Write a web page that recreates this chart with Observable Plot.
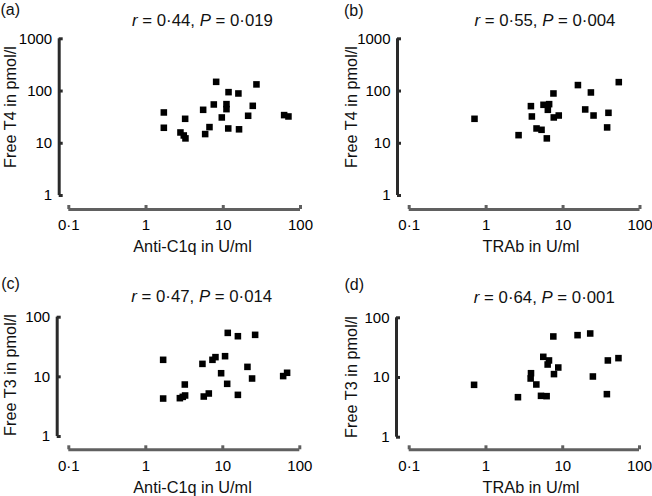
<!DOCTYPE html>
<html><head><meta charset="utf-8">
<script src="https://cdn.jsdelivr.net/npm/d3@7"></script>
<script src="https://cdn.jsdelivr.net/npm/@observablehq/plot@0.6"></script>
<style>
body{margin:0;background:#fff;}
#chart{position:relative;width:652px;height:496px;font-family:"Liberation Sans",Arial,Helvetica,sans-serif;color:#111;overflow:hidden;}
.panel{position:absolute;}
.lbl{position:absolute;transform:translate(-50%,-50%);white-space:nowrap;line-height:1;}
.ylab{transform:translate(-50%,-50%) rotate(-90deg);}
</style></head><body><div id="chart"></div>
<script>
// ---- data ----
const xTicks = [0.1, 1, 10, 100];
const xTickLabels = ["0·1", "1", "10", "100"];
const yTicksT4 = [1, 10, 100, 1000];
const yTicksT3 = [1, 10, 100];

// (a) Anti-C1q vs Free T4
const aX = [1.70, 1.70, 3.21, 2.79, 3.08, 3.24, 5.49, 5.83, 6.63, 7.54, 8.09, 9.57, 11.0, 11.0, 11.7, 11.6, 15.7, 16.0, 21.0, 24.1, 26.9, 61.4, 69.8];
const aY = [38.9, 19.8, 29.4, 16.1, 14.1, 12.4, 43.7, 15.0, 20.4, 55.3, 150, 31.2, 56.1, 45.0, 95.2, 19.2, 89.8, 18.5, 33.6, 52.1, 134, 34.6, 32.6];
// (b) TRAb vs Free T4
const bX = [0.706, 2.64, 3.82, 3.93, 4.52, 5.25, 5.57, 6.59, 6.34, 6.15, 7.50, 7.57, 8.79, 15.6, 19.4, 23.0, 24.9, 38.9, 37.4, 53.0];
const bY = [29.4, 14.3, 51.4, 32.6, 19.2, 18.1, 54.5, 56.1, 43.7, 12.4, 89.8, 31.2, 34.0, 130, 44.4, 93.9, 34.0, 38.3, 20.1, 148];
// (c) Anti-C1q vs Free T3
const cX = [11.6, 15.7, 1.68, 5.44, 7.34, 8.03, 10.7, 9.51, 3.21, 11.4, 1.68, 2.77, 3.02, 3.24, 5.66, 6.58, 15.7, 20.9, 24.0, 26.3, 60.8, 68.4];
const cY = [54.6, 48.0, 19.3, 16.5, 19.3, 21.4, 22.2, 11.5, 7.44, 7.64, 4.33, 4.39, 4.62, 4.87, 4.68, 5.26, 4.99, 14.7, 9.38, 50.6, 10.3, 11.7];
// (d) TRAb vs Free T3
const dX = [0.700, 2.61, 3.86, 3.82, 4.53, 5.21, 6.17, 5.58, 6.62, 6.36, 7.54, 7.69, 8.75, 15.6, 22.8, 24.7, 38.7, 37.6, 53.2];
const dY = [7.54, 4.68, 11.8, 9.62, 7.64, 4.93, 4.87, 22.2, 19.3, 16.5, 48.7, 11.4, 14.7, 51.2, 54.6, 10.4, 19.3, 5.26, 21.1];

const panelLetters = ["(a)", "(b)", "(c)", "(d)"];
const rValues = ["0·44", "0·55", "0·47", "0·64"];
const pValues = ["0·019", "0·004", "0·014", "0·001"];
const xLabels = ["Anti-C1q in U/ml", "TRAb in U/ml", "Anti-C1q in U/ml", "TRAb in U/ml"];
const yLabels = ["Free T4 in pmol/l", "Free T4 in pmol/l", "Free T3 in pmol/l", "Free T3 in pmol/l"];

// ---- layout ----
const FONT = '"Liberation Sans", Arial, Helvetica, sans-serif';
const X_AXIS_COLOR = "#606060";
const Y_AXIS_COLOR = "#2a2a2a";
const LINE_W = 3;
const panels = [
  {xs: aX, ys: aY, yTicks: yTicksT4, left: 0,   top: 0,   w: 326, h: 250, mt: 38.3, mb: 55,   ml: 68.3, mr: 26,   xLineDy: 14,   yLineDx: -9.6,  pad: 9.6,
   title: [202.5, 21], letter: [10.2, 10], xlab: [192.5, 245.5], ylab: [10, 107]},
  {xs: bX, ys: bY, yTicks: yTicksT4, left: 326, top: 0,   w: 326, h: 250, mt: 38.3, mb: 55,   ml: 82.7, mr: 12.5, xLineDy: 14,   yLineDx: -11.7, pad: 9.6,
   title: [545, 21], letter: [353.8, 11], xlab: [531, 245.5], ylab: [350.5, 107]},
  {xs: cX, ys: cY, yTicks: yTicksT3, left: 0,   top: 250, w: 326, h: 246, mt: 66.7, mb: 60,   ml: 68.3, mr: 26.7, xLineDy: 13.3, yLineDx: -11.6, pad: 10.3,
   title: [201.7, 297], letter: [10.5, 283.5], xlab: [192.5, 487], ylab: [10, 375]},
  {xs: dX, ys: dY, yTicks: yTicksT3, left: 326, top: 250, w: 326, h: 246, mt: 67.3, mb: 59.3, ml: 82.7, mr: 13,   xLineDy: 12.6, yLineDx: -12.7, pad: 10.3,
   title: [544.3, 297.5], letter: [354.3, 284.5], xlab: [531, 487], ylab: [350.5, 376.5]}
];

const chart = document.getElementById("chart");
const fmtX = d => xTickLabels[xTicks.indexOf(d)];

function addLabel(html, pos, size, cls) {
  const el = document.createElement("div");
  el.className = "lbl" + (cls ? " " + cls : "");
  el.style.left = pos[0] + "px";
  el.style.top = pos[1] + "px";
  el.style.fontSize = size + "px";
  el.innerHTML = html;
  chart.appendChild(el);
}

panels.forEach((p, i) => {
  const pts = p.xs.map((x, k) => ({x, y: p.ys[k]}));
  const yDom = [p.yTicks[0], p.yTicks[p.yTicks.length - 1]];
  const svg = Plot.plot({
    width: p.w, height: p.h,
    marginTop: p.mt, marginBottom: p.mb, marginLeft: p.ml, marginRight: p.mr,
    style: {fontFamily: FONT, fontSize: "15px", color: "#111", background: "transparent", overflow: "visible"},
    x: {type: "log", domain: [0.1, 100]},
    y: {type: "log", domain: yDom},
    marks: [
      Plot.ruleY([yDom[0]], {dy: p.xLineDy, stroke: X_AXIS_COLOR, strokeWidth: LINE_W}),
      Plot.ruleX([0.1], {dx: p.yLineDx, stroke: Y_AXIS_COLOR, strokeWidth: LINE_W}),
      Plot.axisX(xTicks, {dy: p.xLineDy - 4, tickSize: 4, tickPadding: p.pad, tickFormat: fmtX, label: null, stroke: X_AXIS_COLOR, fill: "black", strokeWidth: LINE_W}),
      Plot.axisY(p.yTicks, {dx: p.yLineDx + 4, tickSize: 4, tickPadding: 7, tickFormat: d => String(d), label: null, stroke: Y_AXIS_COLOR, fill: "black", strokeWidth: LINE_W}),
      Plot.dot(pts, {x: "x", y: "y", symbol: "square", r: 3.7, fill: "black", stroke: "none"})
    ]
  });
  const wrap = document.createElement("div");
  wrap.className = "panel";
  wrap.style.left = p.left + "px";
  wrap.style.top = p.top + "px";
  wrap.appendChild(svg);
  chart.appendChild(wrap);

  addLabel(`<i>r</i> = ${rValues[i]}, <i>P</i> = ${pValues[i]}`, p.title, 16.8);
  addLabel(panelLetters[i], p.letter, 16);
  addLabel(xLabels[i], p.xlab, 16.3);
  addLabel(yLabels[i], p.ylab, 16.3, "ylab");
});
</script></body></html>
